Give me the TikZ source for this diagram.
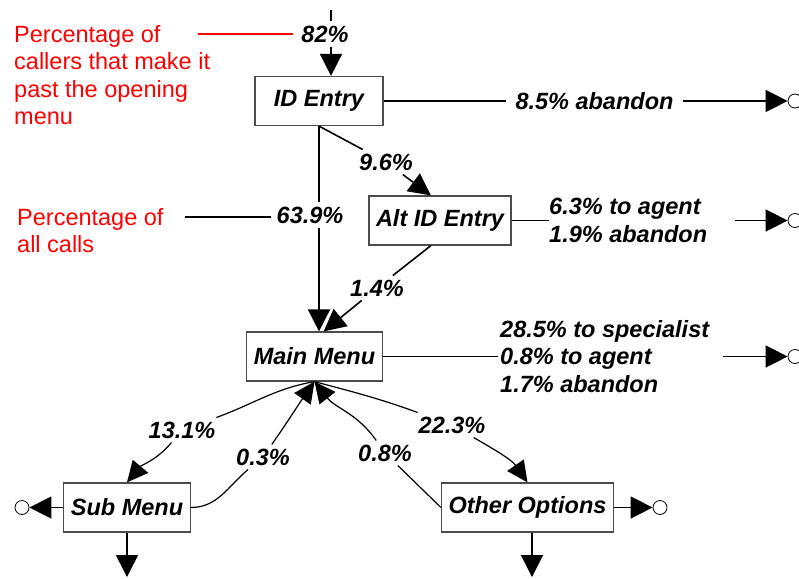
\documentclass[tikz,border=0pt]{standalone}
\usepackage{fontspec}
\setmainfont{Liberation Sans}
\usetikzlibrary{arrows.meta}
\newcommand{\callfont}{\fontsize{23.5}{27.5}\selectfont}

\tikzset{
  box/.style={draw=black!70, line width=1.2pt, font=\callfont\bfseries\itshape,
    inner xsep=7pt, minimum height=49pt},
  pct/.style={font=\callfont\bfseries\itshape, inner xsep=5pt, inner ysep=4pt},
  note/.style={font=\callfont, text=red, align=left, anchor=north west, inner sep=0pt},
  exit/.style={circle, draw, line width=0.8pt, minimum size=14pt, inner sep=0pt},
  conn/.style={line width=1.6pt},
  flow/.style={line width=1.6pt, -{Triangle[length=22pt,width=22pt]}},
  bow/.style={line width=1.2pt},
  bowflow/.style={line width=1.2pt, -{Triangle[length=21pt,width=20pt]}},
}

\begin{document}
\begin{tikzpicture}[x=1pt,y=1pt]
  \useasboundingbox (0,0) rectangle (799,-578);

  % menus
  \node[box, minimum width=128pt] (id) at (319,-101) {ID Entry};
  \node[box] (alt) at (440,-220.5) {Alt ID Entry};
  \node[box] (main) at (314.5,-356.5) {Main Menu};
  \node[box] (sub) at (127,-507.5) {Sub Menu};
  \node[box] (other) at (527.5,-507.5) {Other Options};

  % call leaves the system
  \node[exit] (c1) at (795,-101) {};
  \node[exit] (c2) at (795,-220.5) {};
  \node[exit] (c3) at (795,-356.5) {};
  \node[exit] (c4) at (22,-507.5) {};
  \node[exit] (c5) at (660,-507.5) {};

  % percentages
  \node[pct, inner xsep=8pt] (l82) at (325,-34) {82\%};
  \node[pct, inner xsep=9pt] (l85) at (594.5,-101) {8.5\% abandon};
  \node[pct] (l96) at (386,-162) {9.6\%};
  \node[pct] (l639) at (310,-215) {63.9\%};
  \node[pct] (l14) at (377,-288) {1.4\%};
  \node[pct, align=left, anchor=west, inner xsep=0pt] (l2) at (549,-220.5)
    {6.3\% to agent\\1.9\% abandon};
  \node[pct, align=left, anchor=west, inner xsep=2pt] (l3) at (498,-356.5)
    {28.5\% to specialist\\0.8\% to agent\\1.7\% abandon};
  \node[pct] (l131) at (182,-430) {13.1\%};
  \node[pct] (l03) at (263,-457) {0.3\%};
  \node[pct] (l08) at (385,-453) {0.8\%};
  \node[pct] (l223) at (452,-425) {22.3\%};

  % notes
  \node[note] (note1) at (14,-25) {Percentage of\\callers that make it\\past the opening\\menu};
  \node[note] (note2) at (17,-208) {Percentage of\\all calls};
  \coordinate (r1) at (198,-34);
  \coordinate (r2) at (185,-217);
  \draw[red, line width=1.2pt] (r1) -- (r1 -| l82.west);
  \draw[line width=1.2pt] (r2) -- (r2 -| l639.west);

  % straight flows
  \coordinate (tick) at (331,-10);
  \draw[conn] (tick) -- (tick |- l82.north);
  \draw[flow] (tick |- l82.south) -- (tick |- id.north);
  \draw[conn] (id) -- (l85);
  \draw[flow] (l85) -- (c1);
  \draw[conn] (id.south) -- (l96);
  \draw[flow] (l96) -- (alt.110);
  \draw[conn] (id.south) -- (id.south |- l639.north);
  \draw[flow] (id.south |- l639.south) -- (id.south |- main.north);
  \draw[conn] (alt.250) -- (l14);
  \draw[flow] (l14) -- (main.70);
  \coordinate (s2) at (735,-220.5);
  \coordinate (s3) at (723,-356.5);
  \draw[conn] (alt) -- (l2);
  \draw[flow] (s2) -- (c2);
  \draw[conn] (main) -- (l3);
  \draw[flow] (s3) -- (c3);

  % curved flows
  \draw[bow] (main.south) to[out=190,in=20] (l131);
  \draw[bowflow] (l131) to[out=230,in=50] (sub.north);
  \draw[bow] (sub.east) to[out=0,in=220] (l03);
  \draw[bowflow] (l03) to[out=55,in=235] (main.south);
  \draw[bow] (other.west) -- (l08);
  \draw[bowflow] (l08) to[out=125,in=-52] (main.south);
  \draw[bow] (main.south) to[out=-15,in=160] (l223);
  \draw[bowflow] (l223) to[out=-30,in=125] (other.north);

  % onward
  \coordinate (d4) at (127,-577);
  \coordinate (d5) at (532,-577);
  \draw[flow] (sub.west) -- (c4);
  \draw[flow] (other.east) -- (c5);
  \draw[flow] (sub) -- (d4);
  \draw[flow] (other.south -| d5) -- (d5);
\end{tikzpicture}
\end{document}
